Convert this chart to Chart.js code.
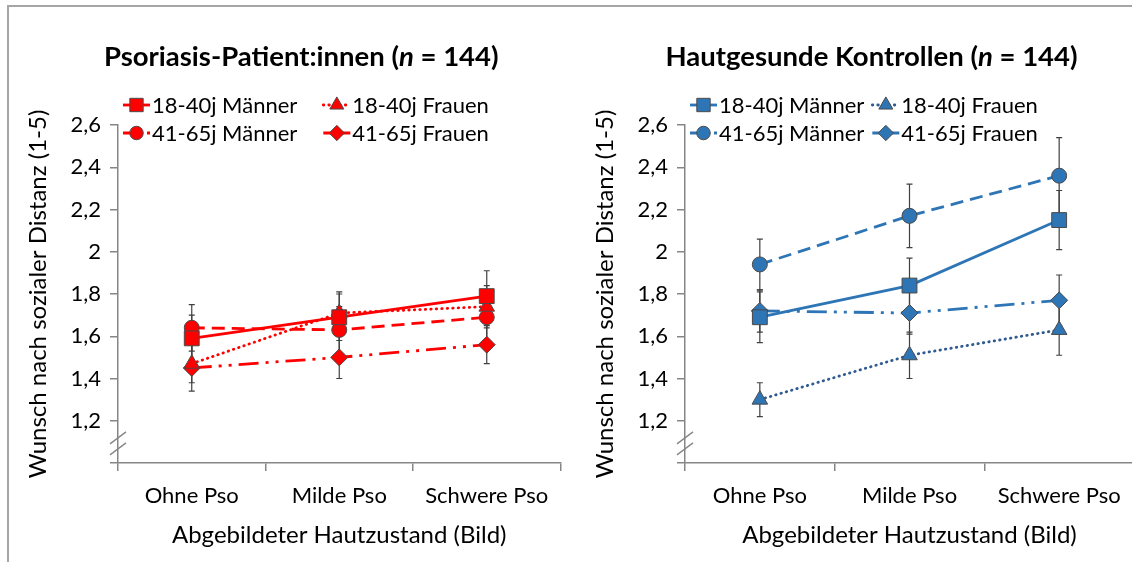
<!DOCTYPE html>
<html>
<head>
<meta charset="utf-8">
<script src="https://cdn.jsdelivr.net/npm/chart.js@4.4.1/dist/chart.umd.min.js"></script>
<style>
  html, body { margin: 0; padding: 0; background: #fff; width: 1132px; height: 562px; overflow: hidden; }
  #frame { position: absolute; left: 7px; top: 5px; width: 1140px; height: 600px; border-left: 2px solid #a6a6a6; border-top: 2px solid #a6a6a6; }
  canvas { position: absolute; top: 0; }
  #psoChart { left: 0; }
  #konChart { left: 567px; }
</style>
</head>
<body>
<div id="frame"></div>
<canvas id="psoChart" width="572" height="562"></canvas>
<canvas id="konChart" width="580" height="562"></canvas>
<script>
const categories = ['Ohne Pso', 'Milde Pso', 'Schwere Pso'];
const seriesLabels = ['18-40j Männer', '18-40j Frauen', '41-65j Männer', '41-65j Frauen'];

// Psoriasis-Patient:innen
const psoM1840 = [1.59, 1.69, 1.79];
const psoF1840 = [1.47, 1.71, 1.74];
const psoM4165 = [1.64, 1.63, 1.69];
const psoF4165 = [1.45, 1.50, 1.56];
const psoM1840Err = [0.11, 0.11, 0.12];
const psoF1840Err = [0.09, 0.10, 0.10];
const psoM4165Err = [0.11, 0.11, 0.11];
const psoF4165Err = [0.11, 0.10, 0.09];

// Hautgesunde Kontrollen
const konM1840 = [1.69, 1.84, 2.15];
const konF1840 = [1.30, 1.51, 1.63];
const konM4165 = [1.94, 2.17, 2.36];
const konF4165 = [1.72, 1.71, 1.77];
const konM1840Err = [0.12, 0.13, 0.14];
const konF1840Err = [0.08, 0.11, 0.12];
const konM4165Err = [0.12, 0.15, 0.18];
const konF4165Err = [0.10, 0.10, 0.12];

const psoTitle = [['Psoriasis-Patient:innen (', false], ['n', true], [' = 144)', false]];
const konTitle = [['Hautgesunde Kontrollen (', false], ['n', true], [' = 144)', false]];

const FONT = 'Lato';
const axisGray = '#868686';

// error bars, drawn under lines and markers
const errorBars = {
  id: 'errorBars',
  beforeDatasetsDraw(chart) {
    const {ctx} = chart;
    const y = chart.scales.y;
    ctx.save();
    ctx.strokeStyle = '#404040';
    ctx.lineWidth = 1.2;
    chart.data.datasets.forEach((ds, i) => {
      const meta = chart.getDatasetMeta(i);
      meta.data.forEach((pt, j) => {
        const v = ds.data[j], e = ds.errors[j];
        const y1 = y.getPixelForValue(v - e), y2 = y.getPixelForValue(v + e);
        ctx.beginPath();
        ctx.moveTo(pt.x, y1); ctx.lineTo(pt.x, y2);
        ctx.moveTo(pt.x - 3, y1); ctx.lineTo(pt.x + 3, y1);
        ctx.moveTo(pt.x - 3, y2); ctx.lineTo(pt.x + 3, y2);
        ctx.stroke();
      });
    });
    ctx.restore();
  }
};

// "//" axis break near the bottom of the y axis
const axisBreak = {
  id: 'axisBreak',
  afterDraw(chart) {
    const {ctx, chartArea} = chart;
    const y = chart.scales.y;
    const x = chartArea.left;
    const yc = y.getPixelForValue(1.1);
    ctx.save();
    ctx.strokeStyle = axisGray;
    ctx.lineWidth = 1.3;
    [-4, 7].forEach(d => {
      ctx.beginPath();
      ctx.moveTo(x - 8, yc + d + 6);
      ctx.lineTo(x + 8, yc + d - 6);
      ctx.stroke();
    });
    ctx.restore();
  }
};

const cornerLegend = {
  id: 'cornerLegend',
  afterDraw(chart, args, opts) {
    const {ctx, chartArea} = chart;
    const ds = chart.data.datasets;
    ctx.save();
    ctx.font = opts.size + 'px ' + FONT;
    ctx.textBaseline = 'middle';
    const sample = 27;
    const col1 = chartArea.left + 5;
    const w1 = Math.max(ctx.measureText(ds[0].label).width, ctx.measureText(ds[2].label).width);
    const col2 = col1 + sample + 2 + w1 + opts.gap;
    [[0, 1], [2, 3]].forEach((row, r) => {
      const yy = opts.rows[r];
      row.forEach((i, c) => {
        const d = ds[i];
        const x0 = c === 0 ? col1 : col2;
        ctx.save();
        ctx.strokeStyle = d.borderColor;
        ctx.lineWidth = d.borderWidth;
        ctx.lineCap = d.borderCapStyle || 'butt';
        ctx.setLineDash(d.legendDash || []);
        ctx.beginPath();
        ctx.moveTo(x0, yy); ctx.lineTo(x0 + sample, yy);
        ctx.stroke();
        ctx.restore();
        ctx.save();
        ctx.fillStyle = d.pointBackgroundColor;
        ctx.strokeStyle = d.pointBorderColor;
        ctx.lineWidth = 1;
        Chart.helpers.drawPoint(ctx, {pointStyle: d.pointStyle, radius: d.pointRadius * 0.9, rotation: 0, borderWidth: 1}, x0 + sample / 2, yy);
        ctx.restore();
        ctx.fillStyle = '#000';
        ctx.fillText(d.label, x0 + sample + 2, yy + 1);
      });
    });
    ctx.restore();
  }
};

const mixedTitle = {
  id: 'mixedTitle',
  afterDraw(chart, args, opts) {
    const {ctx, chartArea} = chart;
    ctx.save();
    ctx.textBaseline = 'middle';
    ctx.fillStyle = '#000';
    const fontOf = it => (it ? 'italic ' : '') + 'bold ' + opts.size + 'px ' + FONT;
    let total = 0;
    opts.parts.forEach(p => { ctx.font = fontOf(p[1]); total += ctx.measureText(p[0]).width; });
    let x = (chartArea.left + chartArea.right) / 2 + opts.dx - total / 2;
    opts.parts.forEach(p => {
      ctx.font = fontOf(p[1]);
      ctx.fillText(p[0], x, opts.y);
      x += ctx.measureText(p[0]).width;
    });
    ctx.restore();
  }
};

function makeDatasets(values, errors, color, dotColor) {
  const styles = [
    {pointStyle: 'rect', pointRadius: 10.5, borderDash: [], legendDash: []},
    {pointStyle: 'triangle', pointRadius: 9, borderDash: [0.5, 5], legendDash: [0.5, 5], borderCapStyle: 'round'},
    {pointStyle: 'circle', pointRadius: 7.5, borderDash: [13, 7], legendDash: [8, 4]},
    {pointStyle: 'rectRot', pointRadius: 8.5, borderDash: [20, 7, 3, 7, 3, 7], legendDash: [9, 4, 2, 4]}
  ];
  // lower order is drawn on top: 18-40j Männer uppermost
  return values.map((v, i) => Object.assign({
    label: seriesLabels[i],
    data: v,
    errors: errors[i],
    order: i,
    borderColor: i === 1 ? dotColor : color,
    borderWidth: 2.8,
    pointBackgroundColor: color,
    pointBorderColor: '#4a4a4a',
    pointBorderWidth: 1,
    pointHoverRadius: 8,
    fill: false,
    tension: 0,
    clip: false
  }, styles[i]));
}

function tickText(v) {
  if (Math.abs(v - 1) < 1e-6) return '';
  return String(Math.round(v * 10) / 10).replace('.', ',');
}

function makeConfig(datasets, titleParts, rightPad, legendGap) {
  const font = {family: FONT, size: 22};
  const titleFont = {family: FONT, size: 24};
  return {
    type: 'line',
    data: {labels: categories, datasets},
    options: {
      responsive: false,
      animation: false,
      layout: {padding: {top: 125, right: rightPad, left: 0, bottom: 0}},
      plugins: {
        legend: {display: false},
        tooltip: {enabled: false},
        cornerLegend: {rows: [105, 133], gap: legendGap, size: 22},
        mixedTitle: {parts: titleParts, size: 27.5, dx: -38, y: 57}
      },
      scales: {
        x: {
          type: 'category',
          offset: true,
          afterFit(s) { s.height = 99; },
          border: {color: axisGray, width: 1.5},
          grid: {offset: true, drawOnChartArea: false, tickLength: 8, color: axisGray, lineWidth: 1.5},
          ticks: {padding: 12, color: '#000', font, maxRotation: 0},
          title: {display: true, text: 'Abgebildeter Hautzustand (Bild)', color: '#000', font: titleFont, padding: {top: 0, bottom: 12}}
        },
        y: {
          min: 1,
          max: 2.6,
          afterFit(s) { s.width = 118; },
          border: {color: axisGray, width: 1.5},
          grid: {drawOnChartArea: false, tickLength: 8, color: axisGray, lineWidth: 1.5},
          ticks: {stepSize: 0.2, padding: 9, color: '#000', font, callback: v => tickText(v)},
          title: {display: true, text: 'Wunsch nach sozialer Distanz (1-5)', color: '#000', font: titleFont, padding: {top: 24}}
        }
      }
    },
    plugins: [errorBars, axisBreak, cornerLegend, mixedTitle]
  };
}

const psoSets = makeDatasets([psoM1840, psoF1840, psoM4165, psoF4165],
  [psoM1840Err, psoF1840Err, psoM4165Err, psoF4165Err], '#ff0000', '#ff0000');
const konSets = makeDatasets([konM1840, konF1840, konM4165, konF4165],
  [konM1840Err, konF1840Err, konM4165Err, konF4165Err], '#2e75b6', '#2f5b91');

const psoChart = new Chart(document.getElementById('psoChart'), makeConfig(psoSets, psoTitle, 3, 26));
const konChart = new Chart(document.getElementById('konChart'), makeConfig(konSets, konTitle, 13, 8));
</script>
</body>
</html>
